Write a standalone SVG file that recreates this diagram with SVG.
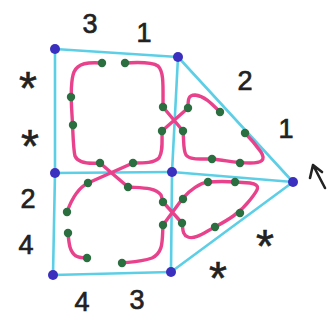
<svg xmlns="http://www.w3.org/2000/svg" width="332" height="322" viewBox="0 0 332 322">
<style>
.edge{stroke:#5ccfe6;stroke-width:2.6;fill:none;stroke-linecap:round}
.vtx{fill:#3b2fbf}
.strand{stroke:#e8428c;stroke-width:3.4;fill:none;stroke-linecap:round;stroke-linejoin:round}
.dot{fill:#2b6e3f}
.lbl{font-family:"Liberation Sans",Arial,sans-serif;font-size:27px;fill:#222;text-anchor:middle;stroke:#222;stroke-width:0.7}
.ast{font-family:"Liberation Sans",Arial,sans-serif;font-size:46px;fill:#222;text-anchor:middle;stroke:#222;stroke-width:0.6}
</style>
<rect width="332" height="322" fill="#ffffff"/>
<g id="connectors">
<line class="edge" x1="55" y1="49" x2="178" y2="57"/>
<line class="edge" x1="55" y1="49" x2="55" y2="173"/>
<line class="edge" x1="55" y1="173" x2="53" y2="275"/>
<line class="edge" x1="53" y1="275" x2="171" y2="272"/>
<line class="edge" x1="178" y1="57" x2="172" y2="172"/>
<line class="edge" x1="172" y1="172" x2="171" y2="272"/>
<line class="edge" x1="55" y1="173" x2="172" y2="172"/>
<line class="edge" x1="172" y1="172" x2="293" y2="182"/>
<line class="edge" x1="178" y1="57" x2="293" y2="182"/>
<line class="edge" x1="171" y1="272" x2="293" y2="182"/>
</g>
<g id="strands">
<path class="strand" d="M102,63 C88,62 78,63 74,72 C70,82 71,100 72,115 C73,130 73,148 75,156 C78,163 88,164 100,163 L128,187 C140,188 155,187 161,195 L163,202 L182,223 C183,228 182,235 188,237 C195,240 205,232 215,227 C228,220 240,213 250,200 C258,190 262,185 250,183 C240,182 220,181 208,182 C200,183 190,190 183,198 L163,225 C162,240 164,252 152,258 C140,262 130,262 122,263"/>
<path class="strand" d="M125,63 C140,62 152,62 158,66 C164,72 163,85 163,107 L183,131 C184,140 183,150 186,155 C190,160 200,159 212,159 C225,160 235,163 250,163 C262,163 266,160 261,152 C256,145 250,138 245,133"/>
<path class="strand" d="M220,112 C212,104 205,96 195,95 C188,95 188,100 188,108 L162,131 C162,142 163,152 159,158 C154,163 145,163 133,163 L88,183 C78,188 72,198 67,212"/>
<path class="strand" d="M68,233 C69,245 70,252 76,256 C80,258 83,258 87,258"/>
</g>
<g id="markers">
<circle class="dot" cx="102" cy="63" r="4.2"/><circle class="dot" cx="125" cy="63" r="4.2"/>
<circle class="dot" cx="71" cy="97" r="4.2"/><circle class="dot" cx="73" cy="125" r="4.2"/>
<circle class="dot" cx="100" cy="163" r="4.2"/><circle class="dot" cx="133" cy="163" r="4.2"/>
<circle class="dot" cx="88" cy="183" r="4.2"/><circle class="dot" cx="128" cy="187" r="4.2"/>
<circle class="dot" cx="163" cy="107" r="4.2"/><circle class="dot" cx="188" cy="108" r="4.2"/>
<circle class="dot" cx="162" cy="131" r="4.2"/><circle class="dot" cx="183" cy="131" r="4.2"/>
<circle class="dot" cx="220" cy="112" r="4.2"/><circle class="dot" cx="245" cy="133" r="4.2"/>
<circle class="dot" cx="212" cy="159" r="4.2"/><circle class="dot" cx="240" cy="163" r="4.2"/>
<circle class="dot" cx="208" cy="182" r="4.2"/><circle class="dot" cx="235" cy="182" r="4.2"/>
<circle class="dot" cx="240" cy="213" r="4.2"/><circle class="dot" cx="215" cy="227" r="4.2"/>
<circle class="dot" cx="163" cy="202" r="4.2"/><circle class="dot" cx="183" cy="199" r="4.2"/>
<circle class="dot" cx="163" cy="225" r="4.2"/><circle class="dot" cx="182" cy="223" r="4.2"/>
<circle class="dot" cx="67" cy="212" r="4.2"/><circle class="dot" cx="68" cy="233" r="4.2"/>
<circle class="dot" cx="87" cy="258" r="4.2"/><circle class="dot" cx="122" cy="263" r="4.2"/>
</g>
<g id="v1"><circle class="vtx" cx="55" cy="49" r="5"/></g>
<g id="v2"><circle class="vtx" cx="178" cy="57" r="5"/></g>
<g id="v3"><circle class="vtx" cx="55" cy="173" r="5"/></g>
<g id="v4"><circle class="vtx" cx="172" cy="172" r="5"/></g>
<g id="v5"><circle class="vtx" cx="293" cy="182" r="5"/></g>
<g id="v6"><circle class="vtx" cx="53" cy="275" r="5"/></g>
<g id="v7"><circle class="vtx" cx="171" cy="272" r="5"/></g>
<g id="labels">
<text class="lbl" x="90" y="33">3</text>
<text class="lbl" x="144" y="42">1</text>
<text class="ast" x="28" y="104">*</text>
<text class="ast" x="30" y="162">*</text>
<text class="lbl" x="28" y="208">2</text>
<text class="lbl" x="26" y="254">4</text>
<text class="lbl" x="82" y="311">4</text>
<text class="lbl" x="137" y="309">3</text>
<text class="lbl" x="245" y="90">2</text>
<text class="lbl" x="286" y="138">1</text>
<text class="ast" x="265" y="262">*</text>
<text class="ast" x="218" y="294">*</text>
</g>
<g id="arrow" stroke="#222" stroke-width="2.6" fill="none" stroke-linecap="round" stroke-linejoin="round">
<path d="M325,188 L313,165 M310,178 L313,165 L322,172"/>
</g>
</svg>
